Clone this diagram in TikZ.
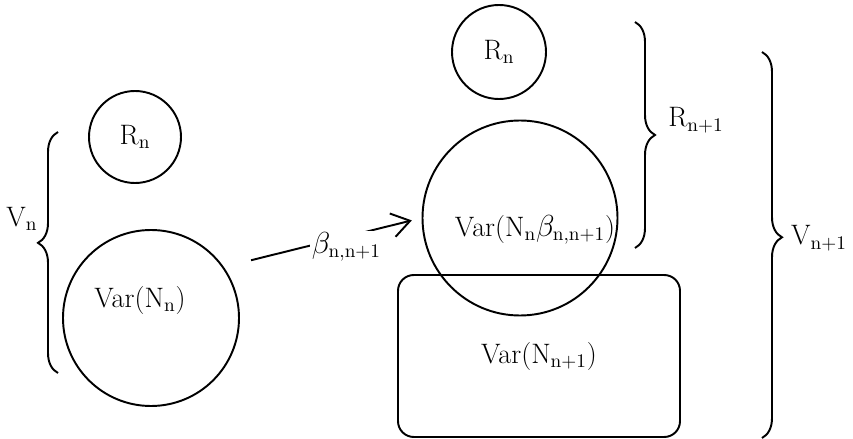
\documentclass[tikz,border=0pt]{standalone}
\usepackage{amsmath}
\usepackage{tikz}
\usetikzlibrary{arrows.meta,decorations.pathreplacing}

\begin{document}
\begin{tikzpicture}[>={Straight Barb[length=3.6mm,width=4.8mm]},
  line width=1.1pt,
  font=\fontsize{16}{19}\selectfont,
  blob/.style={draw, circle, inner sep=0pt},
  box/.style={draw, rounded corners=9pt, minimum width=5.64cm,
    minimum height=3.24cm},
  brc/.style={decorate, decoration={brace, amplitude=0.4cm, aspect=#1}},
  lbl/.style={inner sep=1pt}]
\useasboundingbox (0,0) rectangle (17.06,-8.78);
% stage n
\node[blob, minimum size=1.84cm] (rn) at (2.7,-2.74) {R$_\mathrm{n}$};
\node[blob, minimum size=3.52cm] (vn) at (3.02,-6.36) {};
\node[lbl] (vntxt) at (2.8,-6.0) {Var(N$_\mathrm{n}$)};
\draw[brc=0.54] (1.16,-7.46) -- (1.16,-2.64);
\node[lbl] (vnlbl) at (0.44,-4.38) {V$_\mathrm{n}$};
% stage n+1
\node[blob, minimum size=1.88cm] (rtop) at (9.98,-1.04) {R$_\mathrm{n}$};
\node[blob, minimum size=3.9cm] (mid) at (10.4,-4.36) {};
\node[lbl] (midtxt) at (10.7,-4.6) {Var(N$_\mathrm{n}\beta_\mathrm{n,n+1}$)};
\node[box] (nn1) at (10.78,-7.12) {Var(N$_\mathrm{n+1}$)};
\draw[brc=0.5] (12.7,-0.44) -- (12.7,-4.96);
\node[lbl] (rlbl) at (13.92,-2.4) {R$_\mathrm{n+1}$};
\draw[brc=0.48] (15.24,-1.04) -- (15.24,-8.76);
\node[lbl] (vlbl) at (16.38,-4.76) {V$_\mathrm{n+1}$};
% transfer
\draw[->, shorten <=0.56cm, shorten >=0.2cm] (vn.35) --
  node[lbl, pos=0.62, anchor=north, yshift=4pt, fill=white]
  {$\beta_\mathrm{n,n+1}$} (mid.180);
\end{tikzpicture}
\end{document}
